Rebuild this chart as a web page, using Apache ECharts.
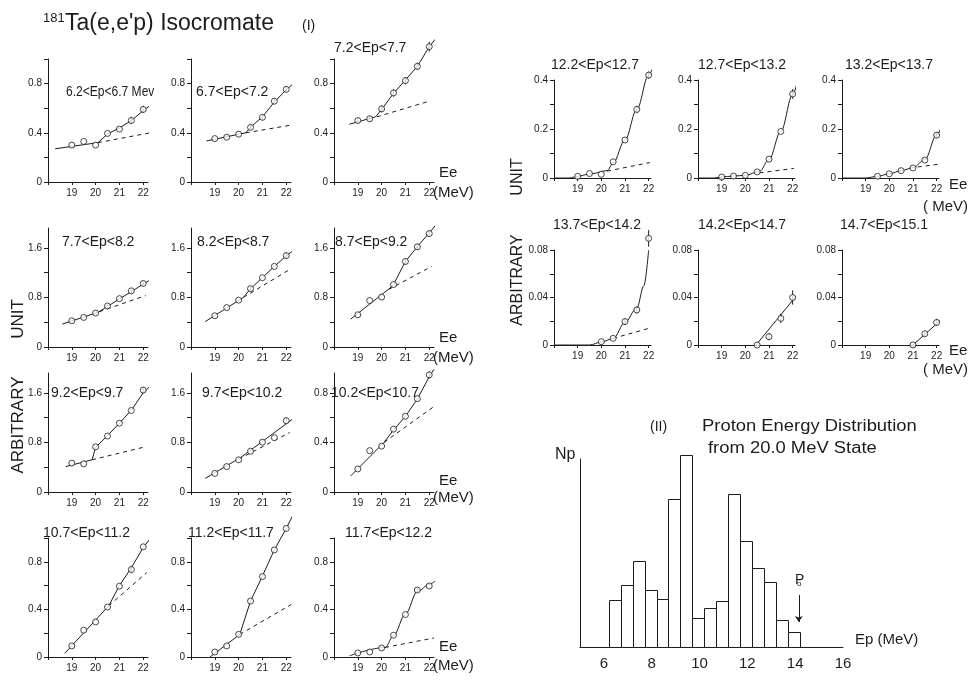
<!DOCTYPE html>
<html><head><meta charset="utf-8">
<script src="https://cdn.jsdelivr.net/npm/echarts@6.0.0/dist/echarts.min.js"></script>
<style>html,body{margin:0;padding:0;background:#fff}#c{width:970px;height:681px}</style>
</head><body><div id="c"></div>
<script>
// ---------------- DATA ----------------
const EE = [19, 19.5, 20, 20.5, 21, 21.5, 22];

const PANEL_TITLES = [
  '6.2<Ep<6.7 Mev', '6.7<Ep<7.2', '7.2<Ep<7.7',
  '7.7<Ep<8.2', '8.2<Ep<8.7', '8.7<Ep<9.2',
  '9.2<Ep<9.7', '9.7<Ep<10.2', '10.2<Ep<10.7',
  '10.7<Ep<11.2', '11.2<Ep<11.7', '11.7<Ep<12.2',
  '12.2<Ep<12.7', '12.7<Ep<13.2', '13.2<Ep<13.7',
  '13.7<Ep<14.2', '14.2<Ep<14.7', '14.7<Ep<15.1'
];

// measured yields at EE (null = no point)
const POINTS = [
  [0.30, 0.33, 0.30, 0.395, 0.43, 0.50, 0.59],
  [0.353, 0.364, 0.389, 0.444, 0.526, 0.657, 0.753],
  [0.50, 0.514, 0.595, 0.724, 0.824, 0.94, 1.10],
  [0.423, 0.477, 0.548, 0.662, 0.78, 0.906, 1.025],
  [0.504, 0.636, 0.756, 0.942, 1.118, 1.30, 1.474],
  [0.52, 0.75, 0.805, 1.008, 1.38, 1.616, 1.83],
  [0.466, 0.455, 0.729, 0.904, 1.11, 1.315, 1.644],
  [0.30, 0.41, 0.52, 0.657, 0.805, 0.877, 1.15],
  [0.186, 0.334, 0.37, 0.507, 0.611, 0.753, 0.945],
  [0.093, 0.225, 0.295, 0.42, 0.595, 0.735, 0.926],
  [0.042, 0.093, 0.19, 0.47, 0.676, 0.90, 1.08],
  [0.034, 0.042, 0.076, 0.183, 0.357, 0.563, 0.597],
  [0.007, 0.018, 0.015, 0.066, 0.155, 0.28, 0.42],
  [0.004, 0.008, 0.011, 0.025, 0.077, 0.19, 0.343],
  [null, 0.007, 0.017, 0.030, 0.041, 0.073, 0.175],
  [null, null, 0.0028, 0.0056, 0.0197, 0.0295, 0.0898],
  [null, null, null, 0, 0.007, 0.0224, 0.040],
  [null, null, null, null, 0, 0.0095, 0.019]
];

// half-length of error bars at EE (0 = none drawn)
const ERRORS = [
  [0, 0, 0, 0, 0, 0.03, 0.03],
  [0, 0, 0, 0.02, 0.02, 0.025, 0.025],
  [0.02, 0.02, 0.03, 0.03, 0.03, 0.03, 0.04],
  [0, 0, 0, 0.03, 0, 0.04, 0.04],
  [0, 0, 0, 0.04, 0, 0, 0.05],
  [0, 0, 0, 0, 0.05, 0.05, 0.05],
  [0, 0, 0, 0, 0, 0, 0.05],
  [0, 0, 0, 0, 0, 0, 0.05],
  [0, 0, 0, 0, 0, 0, 0.03],
  [0, 0, 0, 0, 0, 0.03, 0],
  [0, 0, 0, 0, 0, 0, 0],
  [0, 0, 0, 0, 0, 0.02, 0],
  [0, 0, 0, 0, 0, 0.015, 0.015],
  [0, 0, 0, 0, 0, 0, 0.02],
  [0, 0, 0, 0, 0, 0, 0.012],
  [0, 0, 0, 0, 0.003, 0.003, 0.007],
  [0, 0, 0, 0, 0.003, 0.004, 0.006],
  [0, 0, 0, 0, 0, 0.002, 0.003]
];

// solid fitted curves [Ee, yield]
const FIT_LINES = [
  [[18.3, 0.27], [20.1, 0.32], [20.5, 0.39], [21, 0.44], [21.5, 0.5], [22, 0.58], [22.35, 0.63]],
  [[18.65, 0.334], [20.3, 0.40], [20.5, 0.445], [21, 0.53], [21.5, 0.65], [22, 0.75], [22.3, 0.80]],
  [[18.65, 0.47], [19.75, 0.53], [20, 0.59], [20.5, 0.72], [21, 0.83], [21.5, 0.94], [22, 1.1], [22.25, 1.16]],
  [[18.6, 0.37], [20.1, 0.56], [22.32, 1.09]],
  [[18.6, 0.41], [20.2, 0.80], [20.5, 0.94], [21, 1.12], [21.5, 1.30], [22, 1.47], [22.35, 1.57]],
  [[18.7, 0.45], [20.35, 0.95], [20.5, 1.01], [21, 1.38], [21.5, 1.62], [22, 1.84], [22.3, 1.98]],
  [[18.75, 0.41], [19.85, 0.52], [20, 0.72], [20.5, 0.91], [21, 1.11], [21.5, 1.32], [22, 1.6], [22.35, 1.73]],
  [[18.6, 0.22], [20.1, 0.56], [22.35, 1.2]],
  [[18.7, 0.13], [20.1, 0.40], [20.5, 0.5], [21, 0.61], [21.5, 0.75], [22, 0.93], [22.2, 0.99]],
  [[18.7, 0.03], [20.55, 0.43], [21, 0.6], [21.5, 0.75], [22, 0.92], [22.35, 1.01]],
  [[18.8, 0], [20.05, 0.19], [20.5, 0.47], [21, 0.68], [21.5, 0.9], [22, 1.08], [22.3, 1.2]],
  [[18.65, 0.01], [20.15, 0.08], [20.5, 0.18], [21, 0.36], [21.5, 0.55], [22, 0.61], [22.3, 0.65]],
  [[18, 0], [18.65, 0], [19, 0.007], [19.5, 0.016], [20.25, 0.03], [20.5, 0.062], [21, 0.155], [21.5, 0.28], [22, 0.42], [22.25, 0.47]],
  [[18, 0], [18.7, 0], [19, 0.004], [19.5, 0.008], [20, 0.011], [20.6, 0.027], [21, 0.075], [21.5, 0.19], [22, 0.34], [22.3, 0.44]],
  [[18, 0], [19, 0], [19.5, 0.007], [20, 0.017], [20.5, 0.03], [21, 0.042], [21.5, 0.075], [22, 0.175], [22.35, 0.255]],
  [[18, 0], [19.5, 0], [20, 0.0025], [20.5, 0.0055], [21, 0.019], [21.5, 0.031], [21.8, 0.05], [22, 0.08]],
  [[20.45, 0], [22.35, 0.046]],
  [[21, 0], [22.4, 0.025]]
];

// dashed extrapolated backgrounds
const DASHED_LINES = [
  [[20.1, 0.32], [22.3, 0.40]],
  [[20.3, 0.40], [22.3, 0.466]],
  [[19.8, 0.53], [22.0, 0.657]],
  [[20.16, 0.57], [22.1, 0.83]],
  [[20.2, 0.80], [22.1, 1.24]],
  [[20.3, 0.93], [22.1, 1.30]],
  [[19.85, 0.52], [22.1, 0.73]],
  [[20.0, 0.53], [22.15, 0.96]],
  [[20.1, 0.40], [22.2, 0.69]],
  [[20.55, 0.43], [22.15, 0.71]],
  [[20.05, 0.19], [22.2, 0.44]],
  [[20.15, 0.08], [22.2, 0.16]],
  [[20.25, 0.028], [22.05, 0.063]],
  [[20.6, 0.021], [22.05, 0.039]],
  [[21.2, 0.045], [22.05, 0.056]],
  [[20.5, 0.0056], [22.0, 0.014]],
  [],
  []
];

const Y_MAX = [1.0, 1.0, 1.0, 1.92, 1.92, 1.92, 1.92, 1.92, 0.96, 1.0, 1.0, 1.0, 0.4, 0.4, 0.4, 0.08, 0.08, 0.08];
const Y_TICK_STEP = [0.2, 0.2, 0.2, 0.4, 0.4, 0.4, 0.4, 0.4, 0.2, 0.2, 0.2, 0.2, 0.1, 0.1, 0.1, 0.02, 0.02, 0.02];
const Y_TICK_LABELS = [
  [0, 0.4, 0.8], [0, 0.4, 0.8], [0, 0.4, 0.8],
  [0, 0.8, 1.6], [0, 0.8, 1.6], [0, 0.8, 1.6],
  [0, 0.8, 1.6], [0, 0.8, 1.6], [0, 0.4, 0.8],
  [0, 0.4, 0.8], [0, 0.4, 0.8], [0, 0.4, 0.8],
  [0, 0.2, 0.4], [0, 0.2, 0.4], [0, 0.2, 0.4],
  [0, 0.04, 0.08], [0, 0.04, 0.08], [0, 0.04, 0.08]
];
const X_TICKS = [18, 19, 20, 21, 22];
const X_TICK_LABELS = [19, 20, 21, 22];

// histogram (II): proton energy distribution
const HIST_BIN_START = [6.2, 6.7, 7.2, 7.7, 8.2, 8.7, 9.2, 9.7, 10.2, 10.7, 11.2, 11.7, 12.2, 12.7, 13.2, 13.7];
const HIST_BIN_WIDTH = 0.5;
const HIST_NP = [47, 62, 86, 57, 48, 148, 192, 29, 39, 46, 153, 106, 79, 65, 27, 15];
const HIST_X_LABELS = [6, 8, 10, 12, 14, 16];

// ---------------- LAYOUT ----------------
const INK = '#1c1c1c';
const FONT = "'Liberation Sans', Arial, sans-serif";
const LEFT_COL_X = [48, 191, 334];
const LEFT_ROW_TOP = [59, 228, 373, 538];
const LEFT_ROW_H = [123, 119, 119, 119];
const RIGHT_COL_X = [554, 698, 842];
const RIGHT_ROW_TOP = [80, 250];
const RIGHT_ROW_H = [98, 95];
const TITLE_POS = [
  [66, 92], [196, 92], [334, 48],
  [62, 242], [197, 242], [335, 242],
  [51, 393], [202, 393], [331, 393],
  [43, 533], [188, 533], [345, 533],
  [551, 65], [698, 65], [845, 65],
  [553, 225], [698, 225], [840, 225]
];
const TITLE_SCALE = [0.86, 1, 1, 1, 1, 1, 1, 1, 1, 1, 1, 1, 1, 1, 1, 1, 1, 1];
const SMOOTH_PANELS = [11, 12, 13, 14, 15];

function ticksFor(max, step) {
  const out = [];
  for (let k = 0; k * step <= max + 1e-9; k++) out.push(+(k * step).toFixed(4));
  return out;
}

const grids = [], xAxes = [], yAxes = [], series = [], graphics = [];

PANEL_TITLES.forEach((title, i) => {
  let left, top, h, w, xmax;
  if (i < 12) {
    left = LEFT_COL_X[i % 3]; top = LEFT_ROW_TOP[Math.floor(i / 3)]; h = LEFT_ROW_H[Math.floor(i / 3)]; w = 100; xmax = 22.2;
  } else {
    const j = i - 12;
    left = RIGHT_COL_X[j % 3]; top = RIGHT_ROW_TOP[Math.floor(j / 3)]; h = RIGHT_ROW_H[Math.floor(j / 3)]; w = 97; xmax = 22.1;
  }
  grids.push({ left: left, top: top, width: w, height: h, containLabel: false });
  xAxes.push({
    type: 'value', gridIndex: i, min: 18, max: xmax,
    axisLine: { show: true, onZero: false, lineStyle: { color: INK, width: 1 } },
    axisTick: { show: true, length: 3, customValues: X_TICKS, lineStyle: { color: INK } },
    axisLabel: { show: true, customValues: X_TICK_LABELS, fontSize: 10, margin: 6, color: INK, fontFamily: FONT },
    splitLine: { show: false }
  });
  yAxes.push({
    type: 'value', gridIndex: i, min: 0, max: Y_MAX[i],
    axisLine: { show: true, onZero: false, lineStyle: { color: INK, width: 1 } },
    axisTick: { show: true, length: 4, customValues: ticksFor(Y_MAX[i], Y_TICK_STEP[i]), lineStyle: { color: INK } },
    axisLabel: { show: true, customValues: Y_TICK_LABELS[i], fontSize: 10, margin: 6, color: INK, fontFamily: FONT },
    splitLine: { show: false }
  });

  const smooth = SMOOTH_PANELS.indexOf(i) >= 0;
  series.push({
    type: 'line', xAxisIndex: i, yAxisIndex: i, data: FIT_LINES[i], showSymbol: false, symbol: 'none',
    smooth: smooth ? 0.35 : false, smoothMonotone: 'x', clip: false, silent: true,
    lineStyle: { color: INK, width: 1 }, z: 2
  });
  if (DASHED_LINES[i].length) {
    series.push({
      type: 'line', xAxisIndex: i, yAxisIndex: i, data: DASHED_LINES[i], showSymbol: false, symbol: 'none',
      clip: false, silent: true, lineStyle: { color: INK, width: 1, type: [4, 4] }, z: 2
    });
  }
  const errData = [];
  EE.forEach((x, k) => {
    if (POINTS[i][k] != null && ERRORS[i][k] > 0) errData.push([x, POINTS[i][k], ERRORS[i][k]]);
  });
  if (errData.length) {
    series.push({
      type: 'custom', xAxisIndex: i, yAxisIndex: i, data: errData, clip: false, silent: true, z: 3,
      encode: { x: 0, y: 1 },
      renderItem: function (params, api) {
        const x = api.value(0), y = api.value(1), e = api.value(2);
        const a = api.coord([x, y - e]), b = api.coord([x, y + e]);
        return { type: 'line', shape: { x1: a[0], y1: a[1], x2: b[0], y2: b[1] }, style: { stroke: INK, lineWidth: 1 } };
      }
    });
  }
  const pts = [];
  EE.forEach((x, k) => { if (POINTS[i][k] != null) pts.push([x, POINTS[i][k]]); });
  series.push({
    type: 'scatter', xAxisIndex: i, yAxisIndex: i, data: pts, symbol: 'circle', symbolSize: 6, clip: false,
    silent: true, itemStyle: { color: '#fff', borderColor: INK, borderWidth: 1 }, z: 4
  });

  graphics.push({
    type: 'text', x: TITLE_POS[i][0], y: TITLE_POS[i][1], scaleX: TITLE_SCALE[i],
    style: { text: title, font: '14px ' + FONT, fill: INK, textAlign: 'left', textVerticalAlign: 'middle' }
  });
});

// histogram
const H = PANEL_TITLES.length;
grids.push({ left: 580, top: 459, width: 263, height: 188, containLabel: false });
xAxes.push({
  type: 'value', gridIndex: H, min: 5, max: 16,
  axisLine: { show: true, onZero: false, lineStyle: { color: INK, width: 1 } },
  axisTick: { show: false },
  axisLabel: { show: true, customValues: HIST_X_LABELS, fontSize: 15, margin: 9, color: INK, fontFamily: FONT },
  splitLine: { show: false }
});
yAxes.push({
  type: 'value', gridIndex: H, min: 0, max: 188,
  axisLine: { show: true, onZero: false, lineStyle: { color: INK, width: 1 } },
  axisTick: { show: false }, axisLabel: { show: false }, splitLine: { show: false }
});
series.push({
  type: 'custom', xAxisIndex: H, yAxisIndex: H, clip: false, silent: true,
  data: HIST_BIN_START.map((s, k) => [s, s + HIST_BIN_WIDTH, HIST_NP[k]]),
  encode: { x: [0, 1], y: 2 },
  renderItem: function (params, api) {
    const p0 = api.coord([api.value(0), 0]);
    const p1 = api.coord([api.value(1), api.value(2)]);
    return {
      type: 'rect',
      shape: { x: Math.round(p0[0]) + 0.5, y: Math.round(p1[1]) + 0.5, width: Math.round(p1[0]) - Math.round(p0[0]), height: Math.round(p0[1]) - Math.round(p1[1]) },
      style: { fill: '#fff', stroke: INK, lineWidth: 1 }
    };
  },
  markLine: {
    silent: true, symbol: ['none', 'arrow'], symbolSize: 6,
    lineStyle: { color: INK, width: 1, type: 'solid' }, label: { show: false },
    data: [[{ coord: [14.15, 52] }, { coord: [14.15, 25] }]]
  }
});

// free texts
function txt(text, x, y, size, opts) {
  const o = Object.assign({ align: 'left', rotation: 0, scaleX: 1 }, opts || {});
  graphics.push({
    type: 'text', x: x, y: y, rotation: o.rotation, scaleX: o.scaleX,
    style: { text: text, font: size + 'px ' + FONT, fill: INK, textAlign: o.align, textVerticalAlign: 'middle' }
  });
}
txt('181', 43, 18, 13);
txt("Ta(e,e'p) Isocromate", 65, 24, 23);
txt('(I)', 302, 26, 14);
txt('UNIT', 18, 319, 17, { align: 'center', rotation: Math.PI / 2 });
txt('ARBITRARY', 18, 425, 17, { align: 'center', rotation: Math.PI / 2 });
txt('UNIT', 518, 177, 16, { align: 'center', rotation: Math.PI / 2 });
txt('ARBITRARY', 518, 280, 16, { align: 'center', rotation: Math.PI / 2 });
[[173, 193], [338, 358], [481, 498], [647, 666]].forEach(p => {
  txt('Ee', 439, p[0], 15);
  txt('(MeV)', 433, p[1], 15);
});
[[185, 207], [351, 370]].forEach(p => {
  txt('Ee', 949, p[0], 15);
  txt('( MeV)', 923, p[1], 15);
});
txt('(II)', 650, 427, 14);
txt('Proton Energy Distribution', 702, 427, 16, { scaleX: 1.15 });
txt('from 20.0 MeV State', 708, 449, 16, { scaleX: 1.15 });
txt('Np', 555, 455, 16);
txt('Ep (MeV)', 855, 640, 15);
txt('P', 795, 580, 14);
txt('o', 797, 584, 8);

const chart = echarts.init(document.getElementById('c'), null, { renderer: 'canvas' });
chart.setOption({
  backgroundColor: '#fff',
  animation: false,
  grid: grids, xAxis: xAxes, yAxis: yAxes, series: series,
  graphic: { elements: graphics }
});
</script>
</body></html>
